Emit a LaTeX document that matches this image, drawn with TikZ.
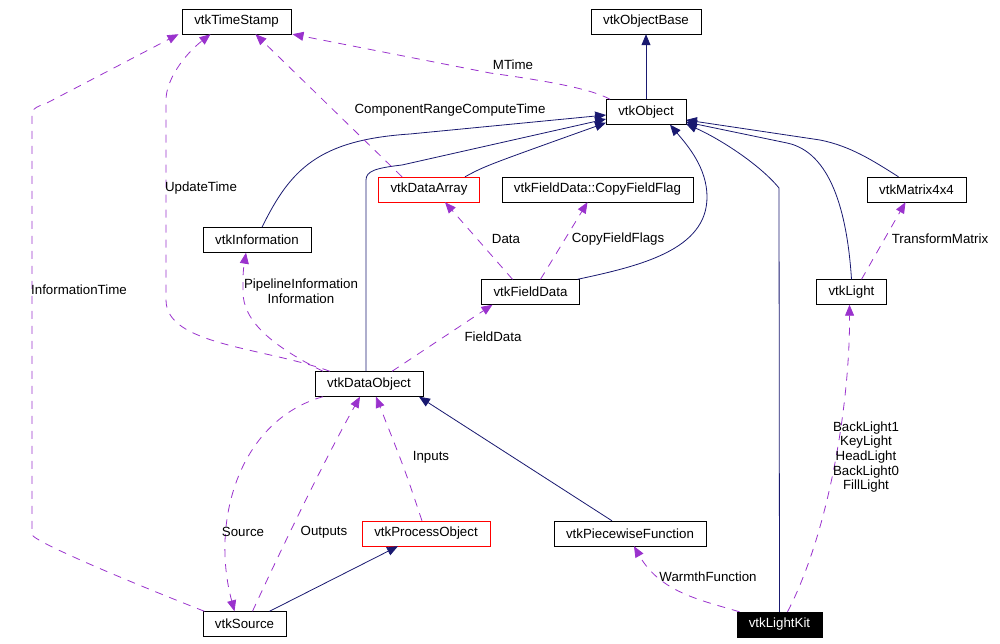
\documentclass[tikz,border=0pt]{standalone}
\usepackage{fontspec}
\setmainfont{Liberation Sans}
\usetikzlibrary{arrows.meta}
\definecolor{inhblue}{RGB}{25,25,112}
\definecolor{usepurple}{RGB}{154,50,205}

\begin{document}
\begin{tikzpicture}[x=1pt,y=-1pt]
\tikzset{cls/.style={draw,rectangle,minimum height=25pt,inner xsep=12pt,inner ysep=0pt,font=\fontsize{13.3}{15}\selectfont}}
\tikzset{lbl/.style={inner sep=0pt,align=center,font=\fontsize{13.3}{14.6}\selectfont}}
\tikzset{inh/.style={draw=inhblue,line width=0.8pt,-{Triangle[length=11pt,width=9pt]}}}
\tikzset{use/.style={draw=usepurple,line width=0.8pt,dash pattern=on 8pt off 7pt,-{Triangle[length=11pt,width=9pt]}}}

  \useasboundingbox (0,0) rectangle (1000,644);

  \node[cls] (ts)    at (236.5,21.5) {vtkTimeStamp};
  \node[cls] (base)  at (646,21.5)   {vtkObjectBase};
  \node[cls] (obj)   at (646,112)    {vtkObject};
  \node[cls,draw=red] (arr) at (429,189.5) {vtkDataArray};
  \node[cls] (cff)   at (597.5,189.5) {vtkFieldData::CopyFieldFlag};
  \node[cls] (mat)   at (916.5,189.5) {vtkMatrix4x4};
  \node[cls] (info)  at (257,240)    {vtkInformation};
  \node[cls] (fdata) at (530.5,292)  {vtkFieldData};
  \node[cls] (light) at (851.5,292)  {vtkLight};
  \node[cls] (dobj)  at (369,384)    {vtkDataObject};
  \node[cls,draw=red] (proc) at (426,533.5) {vtkProcessObject};
  \node[cls] (pwf)   at (630,533.5)  {vtkPiecewiseFunction};
  \node[cls] (src)   at (244.5,624)  {vtkSource};
  \node[cls,fill=black,text=white] (kit) at (779.5,624.5) {vtkLightKit};

  % inheritance
  \draw[inh] (obj) -- (base);
  \draw[inh] ([xshift=5pt]info.north) .. controls (290,170) and (318,140) .. (410,134) -- ([yshift=-3pt]obj.west);
  \draw[inh] ([xshift=-3pt]dobj.north) -- (366,180) .. controls (366,171) and (376,168) .. (402,165) -- ([yshift=-7pt]obj.west);
  \draw[inh] ([xshift=36pt]arr.north) .. controls (485,166) .. ([yshift=2pt]obj.south west);
  \draw[inh] ([xshift=47pt]fdata.north) .. controls (640,266) and (707,250) .. (707,197) .. controls (707,168) and (688,146) .. ([xshift=24pt]obj.south);
  \draw[inh] (kit.north) -- (779,188) .. controls (760,165) and (722,140) .. ([yshift=1pt]obj.south east);
  \draw[inh] (light.north) .. controls (847,210) and (830,152) .. (787,143) -- ([yshift=-10pt]obj.east);
  \draw[inh] ([xshift=-18pt]mat.north) .. controls (872,160) and (850,146) .. (820,140) -- ([yshift=-8pt]obj.east);
  \draw[inh] ([xshift=-18pt]pwf.north) -- ([xshift=-4pt]dobj.south east);
  \draw[inh] ([xshift=25pt]src.north) -- ([xshift=-28pt]proc.south);

  % usage
  \draw[use] ([xshift=-36pt]obj.north) .. controls (590,88) and (540,80) .. (490,73) -- ([xshift=56pt]ts.south);
  \draw[use] ([xshift=-27pt]arr.north) -- ([xshift=19pt]ts.south);
  \draw[use] ([xshift=-39pt]dobj.north) .. controls (262,347) and (166,345) .. (166,300) -- (166,100) .. controls (166,80) and (184,55) .. ([xshift=-26pt]ts.south);
  \draw[use] ([xshift=-40pt]src.north) .. controls (150,590) and (40,545) .. (32,535) -- (32,112) .. controls (34,108) and (38,106) .. (45,104) -- ([xshift=-58pt]ts.south);
  \draw[use] ([xshift=-46pt]dobj.north) .. controls (270,345) and (243,320) .. (243,292) .. controls (243,272) .. ([xshift=-11pt]info.south);
  \draw[use] ([xshift=23pt]dobj.north) -- ([xshift=-38pt]fdata.south);
  \draw[use] ([xshift=-18pt]fdata.north) -- ([xshift=16pt]arr.south);
  \draw[use] ([xshift=10pt]fdata.north) -- ([xshift=-10pt]cff.south);
  \draw[use] ([xshift=10pt]light.north) -- ([xshift=-11pt]mat.south);
  \draw[use] ([xshift=8pt]src.north) .. controls (290,530) and (330,450) .. ([xshift=-9pt]dobj.south);
  \draw[use] ([xshift=-46pt]dobj.south) .. controls (240,420) and (210,520) .. ([xshift=-10pt]src.north);
  \draw[use] ([xshift=-4pt]proc.north) .. controls (405,470) .. ([xshift=7pt]dobj.south);
  \draw[use] ([xshift=8pt]kit.north) .. controls (830,530) and (850,400) .. ([xshift=-2pt]light.south);
  \draw[use] ([xshift=-40pt]kit.north) .. controls (700,600) and (660,592) .. ([xshift=4pt]pwf.south);

  % edge labels
  \node[lbl] (lmtime) at (513,65)  {MTime};
  \node[lbl] (lcrct)  at (450,110) {ComponentRangeComputeTime};
  \node[lbl] (lupd)   at (201,188) {UpdateTime};
  \node[lbl] (linft)  at (79,290)  {InformationTime};
  \node[lbl] (lpipe)  at (301,291) {PipelineInformation\\Information};
  \node[lbl] (ldata)  at (506,239) {Data};
  \node[lbl] (lcff)   at (618,239) {CopyFieldFlags};
  \node[lbl] (ltm)    at (940,239) {TransformMatrix};
  \node[lbl] (lfd)    at (493,337) {FieldData};
  \node[lbl] (linp)   at (431,457) {Inputs};
  \node[lbl] (lsrc)   at (243,532) {Source};
  \node[lbl] (lout)   at (324,532) {Outputs};
  \node[lbl] (lwarm)  at (708,577) {WarmthFunction};
  \node[lbl] (llight) at (866,457) {BackLight1\\KeyLight\\HeadLight\\BackLight0\\FillLight};
\end{tikzpicture}
\end{document}
